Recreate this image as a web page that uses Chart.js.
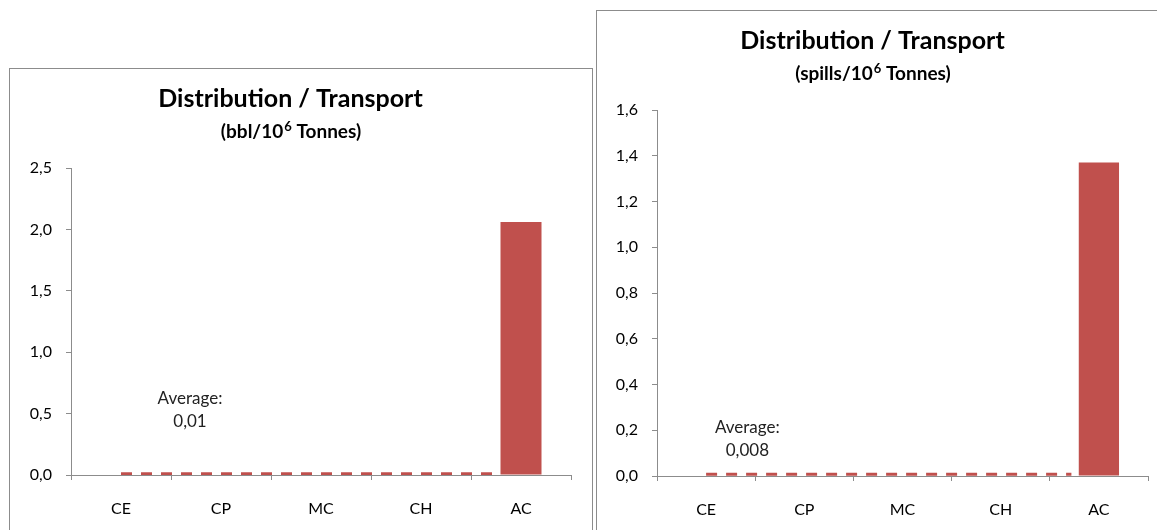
<!DOCTYPE html>
<html>
<head>
<meta charset="utf-8">
<script src="https://cdn.jsdelivr.net/npm/chart.js@4.4.1/dist/chart.umd.min.js"></script>
<style>
  html, body { margin: 0; padding: 0; background: #fff; overflow: hidden; }
  .box { position: absolute; border: 1px solid #8c8c8c; background: #fff; }
  #boxLeft { left: 9px; top: 68px; width: 582px; height: 480px; }
  #boxRight { left: 596px; top: 10px; width: 575px; height: 540px; }
  canvas { display: block; }
</style>
</head>
<body>
<div class="box" id="boxLeft"><canvas id="chartLeft" width="582" height="470"></canvas></div>
<div class="box" id="boxRight"><canvas id="chartRight" width="575" height="530"></canvas></div>
<script>
// data
const categories = ['CE', 'CP', 'MC', 'CH', 'AC'];
const bblValues = [0, 0, 0, 0, 2.06];
const spillValues = [0, 0, 0, 0, 1.37];
const bblAverage = 0.01;
const spillAverage = 0.008;
const avgSpan = [0.5, 4.22]; // category units where the average line runs

const FONT = 'Lato, "Liberation Sans", sans-serif';
const RED = '#C0504D';
const AXIS = '#8c8c8c';

const comma = (v, d) => v.toFixed(d).replace('.', ',');

// "Average:" note and the subtitle with a real superscript
const extras = {
  id: 'extras',
  afterDatasetsDraw(chart, args, opts) {
    const { ctx } = chart;
    ctx.save();
    ctx.fillStyle = '#222';
    ctx.textBaseline = 'middle';

    // average note
    const x = chart.scales.xl.getPixelForValue(opts.avgX);
    const y = chart.scales.y.getPixelForValue(opts.avgY);
    ctx.font = '17px ' + FONT;
    ctx.textAlign = 'center';
    opts.avgLines.forEach((t, i) => ctx.fillText(t, x, y + i * 23));

    // subtitle: before + sup + after
    ctx.fillStyle = '#000';
    ctx.textAlign = 'left';
    const big = 'bold 19px ' + FONT;
    const small = 'bold 13px ' + FONT;
    ctx.font = big;
    const w1 = ctx.measureText(opts.sub[0]).width;
    const w3 = ctx.measureText(opts.sub[2]).width;
    ctx.font = small;
    const w2 = ctx.measureText(opts.sub[1]).width;
    const total = w1 + w2 + w3;
    const cx = chart.titleBlock.left + chart.titleBlock.width / 2;
    const sy = chart.titleBlock.bottom + opts.subOffset;
    let sx = cx - total / 2;
    ctx.font = big;
    ctx.fillText(opts.sub[0], sx, sy);
    sx += w1;
    ctx.font = small;
    ctx.fillText(opts.sub[1], sx + 1, sy - 5);
    sx += w2 + 1;
    ctx.font = big;
    ctx.fillText(opts.sub[2], sx, sy);
    ctx.restore();
  }
};

function makeChart(id, sub, values, avg, avgDigits, yMax, yStep, yWidth, padRight, xHeight, avgX, avgY) {
  const ctx = document.getElementById(id).getContext('2d');
  return new Chart(ctx, {
    type: 'bar',
    data: {
      labels: categories,
      datasets: [
        {
          label: 'Value',
          data: values,
          backgroundColor: RED,
          barPercentage: 0.41,
          categoryPercentage: 1,
          grouped: false,
          order: 2,
        },
        {
          type: 'line',
          label: 'Average',
          data: avgSpan.map(x => ({ x: x, y: avg })),
          xAxisID: 'xl',
          borderColor: RED,
          borderWidth: 3,
          borderDash: [11, 9],
          pointRadius: 0,
          fill: false,
          order: 1,
        },
      ],
    },
    options: {
      responsive: false,
      animation: false,
      layout: { padding: { left: 0, right: padRight, top: 0, bottom: 0 } },
      plugins: {
        legend: { display: false },
        tooltip: { enabled: false },
        title: {
          display: true,
          text: 'Distribution / Transport',
          color: '#000',
          font: { family: FONT, size: 25, weight: 'bold' },
          padding: { top: 15, bottom: 54 },
        },
        extras: {
          avgX: avgX,
          avgY: avgY,
          avgLines: ['Average:', comma(avg, avgDigits)],
          sub: sub,
          subOffset: -36,
        },
      },
      scales: {
        x: {
          grid: { drawOnChartArea: false, color: AXIS, tickLength: 5, offset: true },
          border: { color: AXIS },
          ticks: { color: '#000', font: { family: FONT, size: 16 }, padding: 19 },
          afterFit: s => { s.height = xHeight; },
        },
        xl: {
          type: 'linear',
          display: false,
          offset: false,
          min: 0,
          max: categories.length,
        },
        y: {
          min: 0,
          max: yMax,
          grid: { drawOnChartArea: false, color: AXIS, tickLength: 5 },
          border: { color: AXIS },
          ticks: {
            stepSize: yStep,
            color: '#000',
            font: { family: FONT, size: 16 },
            padding: 14,
            callback: v => comma(v, 1),
          },
          afterFit: s => { s.width = yWidth; },
        },
      },
    },
    plugins: [extras],
  });
}

makeChart('chartLeft', ['(bbl/10', '6', ' Tonnes)'], bblValues, bblAverage, 2,
  2.5, 0.5, 61, 21, 64, 1.19, 0.62);
makeChart('chartRight', ['(spills/10', '6', ' Tonnes)'], spillValues, spillAverage, 3,
  1.6, 0.2, 60, 24, 65, 0.92, 0.21);
</script>
</body>
</html>
